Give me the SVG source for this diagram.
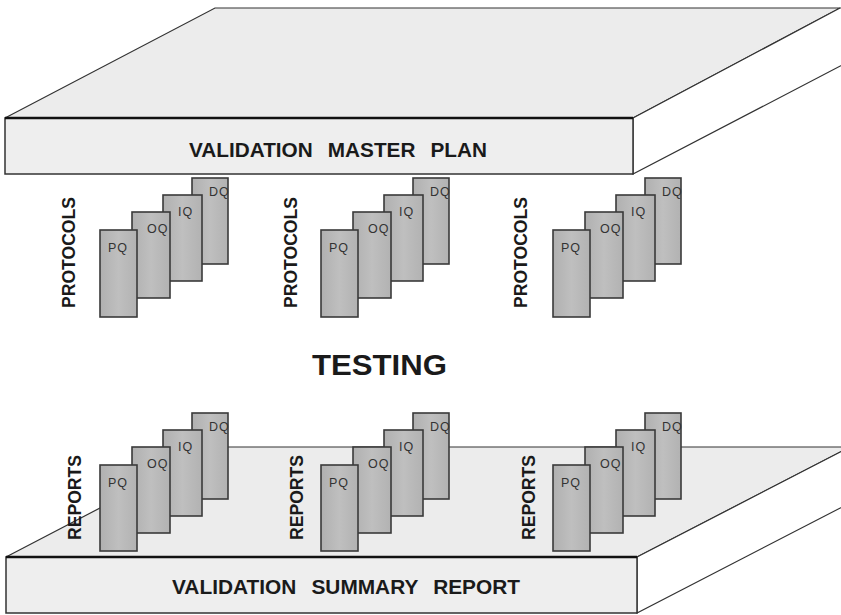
<svg xmlns="http://www.w3.org/2000/svg" width="841" height="615" viewBox="0 0 841 615">
<defs>
<linearGradient id="doc" x1="0" y1="0" x2="1" y2="0">
<stop offset="0" stop-color="#b0b0b0"/>
<stop offset="0.5" stop-color="#bfbfbf"/>
<stop offset="1" stop-color="#b2b2b2"/>
</linearGradient>
</defs>
<style>
.slabtop{fill:#ececec;stroke:#333;stroke-width:1.2}
.slabfront{fill:#eeeeee;stroke:#333;stroke-width:1.5}
.slabside{fill:#ffffff;stroke:#333;stroke-width:1.2}
.edge{stroke:#111;stroke-width:2.5;fill:none}
.doc{fill:url(#doc);stroke:#3a3a3a;stroke-width:1.6}
.dl{font-family:"Liberation Sans",Arial,sans-serif;font-size:12.5px;fill:#333;letter-spacing:1px}
.side{font-family:"Liberation Sans",Arial,sans-serif;font-size:17.5px;font-weight:bold;fill:#1a1a1a;text-anchor:middle}
.big{font-family:"Liberation Sans",Arial,sans-serif;font-weight:bold;fill:#1a1a1a}
</style>
<rect width="841" height="615" fill="#ffffff"/>

<g id="summary-report">
<polygon class="slabtop" points="6,557 217,447 850,447 637,557"/>
<polygon class="slabside" points="637,557 850,447 850,503 637,613"/>
<rect class="slabfront" x="6" y="557" width="631" height="56"/>
<line class="edge" x1="6" y1="557" x2="637" y2="557"/>
<text class="big" x="172" y="594" font-size="20" word-spacing="9" textLength="348" lengthAdjust="spacingAndGlyphs">VALIDATION SUMMARY REPORT</text>
</g>

<g id="master-plan">
<polygon class="slabtop" points="5,118 215,8 840,8 633,118"/>
<polygon class="slabside" points="633,118 840,8 850,8 850,61 633,174"/>
<rect class="slabfront" x="5" y="118" width="628" height="56"/>
<line class="edge" x1="5" y1="118" x2="633" y2="118"/>
<text class="big" x="189" y="157" font-size="20" word-spacing="9" textLength="298" lengthAdjust="spacingAndGlyphs">VALIDATION MASTER PLAN</text>
</g>

<g id="testing">
<text class="big" x="312" y="375" font-size="30" textLength="135" lengthAdjust="spacingAndGlyphs">TESTING</text>
</g>

<g id="protocols-1" transform="translate(100,230)">
<rect class="doc" x="92" y="-52" width="36" height="86"/>
<text class="dl" x="109" y="-34">DQ</text>
<rect class="doc" x="63" y="-35" width="39" height="86"/>
<text class="dl" x="78" y="-14">IQ</text>
<rect class="doc" x="32" y="-18" width="38" height="86"/>
<text class="dl" x="47" y="3">OQ</text>
<rect class="doc" x="0" y="0" width="37" height="87"/>
<text class="dl" x="8" y="22">PQ</text>
</g>
<g id="protocols-2" transform="translate(321,230)">
<rect class="doc" x="92" y="-52" width="36" height="86"/>
<text class="dl" x="109" y="-34">DQ</text>
<rect class="doc" x="63" y="-35" width="39" height="86"/>
<text class="dl" x="78" y="-14">IQ</text>
<rect class="doc" x="32" y="-18" width="38" height="86"/>
<text class="dl" x="47" y="3">OQ</text>
<rect class="doc" x="0" y="0" width="37" height="87"/>
<text class="dl" x="8" y="22">PQ</text>
</g>
<g id="protocols-3" transform="translate(553,230)">
<rect class="doc" x="92" y="-52" width="36" height="86"/>
<text class="dl" x="109" y="-34">DQ</text>
<rect class="doc" x="63" y="-35" width="39" height="86"/>
<text class="dl" x="78" y="-14">IQ</text>
<rect class="doc" x="32" y="-18" width="38" height="86"/>
<text class="dl" x="47" y="3">OQ</text>
<rect class="doc" x="0" y="0" width="37" height="87"/>
<text class="dl" x="8" y="22">PQ</text>
</g>

<g id="reports-1" transform="translate(100,465)">
<rect class="doc" x="92" y="-52" width="36" height="86"/>
<text class="dl" x="109" y="-34">DQ</text>
<rect class="doc" x="63" y="-35" width="39" height="86"/>
<text class="dl" x="78" y="-14">IQ</text>
<rect class="doc" x="32" y="-18" width="38" height="86"/>
<text class="dl" x="47" y="3">OQ</text>
<rect class="doc" x="0" y="0" width="37" height="86"/>
<text class="dl" x="8" y="22">PQ</text>
</g>
<g id="reports-2" transform="translate(321,465)">
<rect class="doc" x="92" y="-52" width="36" height="86"/>
<text class="dl" x="109" y="-34">DQ</text>
<rect class="doc" x="63" y="-35" width="39" height="86"/>
<text class="dl" x="78" y="-14">IQ</text>
<rect class="doc" x="32" y="-18" width="38" height="86"/>
<text class="dl" x="47" y="3">OQ</text>
<rect class="doc" x="0" y="0" width="37" height="86"/>
<text class="dl" x="8" y="22">PQ</text>
</g>
<g id="reports-3" transform="translate(553,465)">
<rect class="doc" x="92" y="-52" width="36" height="86"/>
<text class="dl" x="109" y="-34">DQ</text>
<rect class="doc" x="63" y="-35" width="39" height="86"/>
<text class="dl" x="78" y="-14">IQ</text>
<rect class="doc" x="32" y="-18" width="38" height="86"/>
<text class="dl" x="47" y="3">OQ</text>
<rect class="doc" x="0" y="0" width="37" height="86"/>
<text class="dl" x="8" y="22">PQ</text>
</g>

<g id="side-labels">
<text class="side" transform="translate(75,252.5) rotate(-90)" textLength="111" lengthAdjust="spacingAndGlyphs">PROTOCOLS</text>
<text class="side" transform="translate(297,252.5) rotate(-90)" textLength="111" lengthAdjust="spacingAndGlyphs">PROTOCOLS</text>
<text class="side" transform="translate(527,252.5) rotate(-90)" textLength="111" lengthAdjust="spacingAndGlyphs">PROTOCOLS</text>
<text class="side" transform="translate(81,497.5) rotate(-90)" textLength="85" lengthAdjust="spacingAndGlyphs">REPORTS</text>
<text class="side" transform="translate(303,497.5) rotate(-90)" textLength="85" lengthAdjust="spacingAndGlyphs">REPORTS</text>
<text class="side" transform="translate(535,497.5) rotate(-90)" textLength="85" lengthAdjust="spacingAndGlyphs">REPORTS</text>
</g>
</svg>
